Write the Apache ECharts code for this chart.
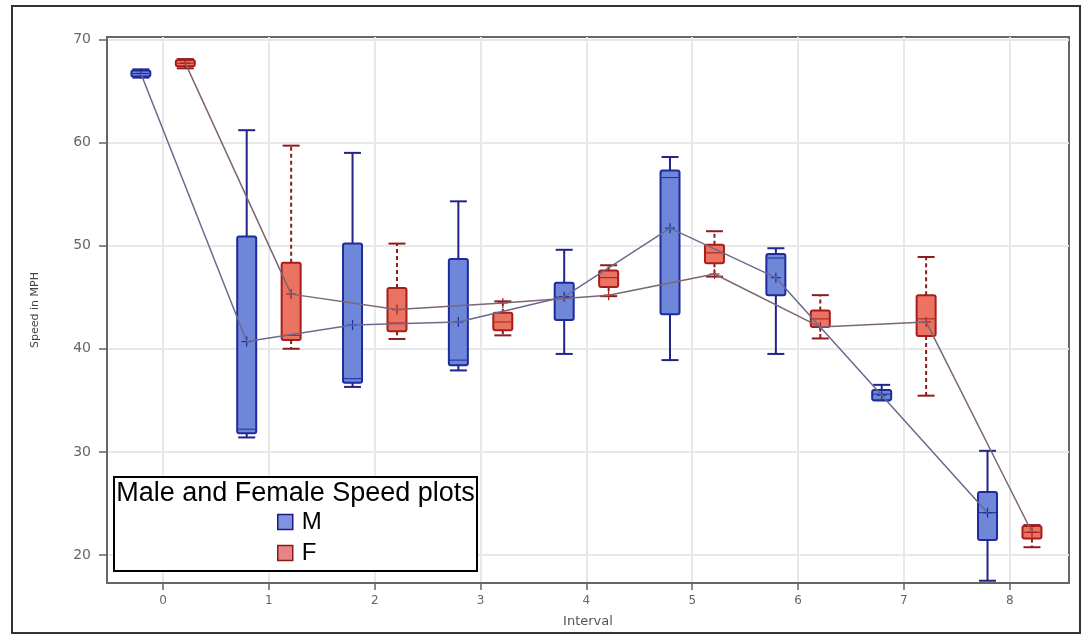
<!DOCTYPE html>
<html>
<head>
<meta charset="utf-8">
<script src="https://cdn.jsdelivr.net/npm/echarts@6/dist/echarts.min.js"></script>
<style>
html,body{margin:0;padding:0;background:#fff;}
#chart{width:1086px;height:635px;}
</style>
</head>
<body>
<div id="chart"></div>
<script>
// ---- data ----
const intervals = [0, 1, 2, 3, 4, 5, 6, 7, 8];
const yTicks = [20, 30, 40, 50, 60, 70];

const maleMin    = [66.3, 31.4, 36.3, 37.9, 39.5, 38.9, 39.5, 35.0, 17.5];
const maleQ1     = [66.4, 31.8, 36.7, 38.4, 42.8, 43.35, 45.2, 35.0, 21.45];
const maleMedian = [66.7, 32.2, 37.1, 38.9, 45.0, 56.6, 48.8, 35.6, 24.1];
const maleQ3     = [67.0, 50.9, 50.2, 48.7, 46.4, 57.3, 49.2, 36.0, 26.1];
const maleMax    = [67.1, 61.2, 59.0, 54.3, 49.6, 58.6, 49.75, 36.5, 30.1];
const maleMean   = [66.7, 40.7, 42.3, 42.6, 45.05, 51.7, 46.9, 35.5, 24.1];

const femaleMin    = [67.2, 40.0, 40.95, 41.3, 45.1, 47.0, 41.0, 35.45, 20.75];
const femaleQ1     = [67.4, 40.85, 41.7, 41.8, 46.0, 48.3, 42.1, 41.25, 21.6];
const femaleMedian = [67.7, 41.3, 42.5, 42.6, 46.9, 49.3, 42.9, 42.9, 22.2];
const femaleQ3     = [68.0, 48.35, 45.9, 43.5, 47.6, 50.1, 43.7, 45.2, 22.8];
const femaleMax    = [68.1, 59.7, 50.2, 44.6, 48.1, 51.4, 45.2, 48.9, 22.9];
const femaleMean   = [67.7, 45.3, 43.8, 44.45, 45.2, 47.25, 42.1, 42.6, 22.2];

// ---- layout / style ----
const OFFSET = 0.21;
const maleX = intervals.map(v => v - OFFSET);
const femaleX = intervals.map(v => v + OFFSET);

function boxData(xs, mn, q1, md, q3, mx, mean) {
  return xs.map((x, i) => [x, mn[i], q1[i], md[i], q3[i], mx[i], mean[i]]);
}

function makeRender(st) {
  return function (params, api) {
    const x = api.value(0);
    const c = v => api.coord([x, v]);
    const pMin = c(api.value(1)), pQ1 = c(api.value(2)), pMed = c(api.value(3)),
          pQ3 = c(api.value(4)), pMax = c(api.value(5)), pMean = c(api.value(6));
    const cx = pMin[0];
    const bw = 19, cw = 17, mw = 5;
    const wStyle = { stroke: st.whisker, lineWidth: 2, lineDash: st.dash };
    const children = [];
    if (pMax[1] < pQ3[1] - 0.5) {
      children.push({ type: 'line', shape: { x1: cx, y1: pQ3[1], x2: cx, y2: pMax[1] }, style: wStyle });
    }
    if (pMin[1] > pQ1[1] + 0.5) {
      children.push({ type: 'line', shape: { x1: cx, y1: pQ1[1], x2: cx, y2: pMin[1] }, style: wStyle });
    }
    children.push({ type: 'line', shape: { x1: cx - cw / 2, y1: pMax[1], x2: cx + cw / 2, y2: pMax[1] }, style: { stroke: st.whisker, lineWidth: 2 } });
    children.push({ type: 'line', shape: { x1: cx - cw / 2, y1: pMin[1], x2: cx + cw / 2, y2: pMin[1] }, style: { stroke: st.whisker, lineWidth: 2 } });
    children.push({
      type: 'rect',
      shape: { x: cx - bw / 2, y: pQ3[1], width: bw, height: Math.max(pQ1[1] - pQ3[1], 3), r: 2 },
      style: { fill: st.fill, stroke: st.stroke, lineWidth: 2 }
    });
    children.push({ type: 'line', shape: { x1: cx - bw / 2 + 1, y1: pMed[1], x2: cx + bw / 2 - 1, y2: pMed[1] }, style: { stroke: st.stroke, lineWidth: 1 } });
    children.push({ type: 'line', shape: { x1: cx - mw, y1: pMean[1], x2: cx + mw, y2: pMean[1] }, style: { stroke: st.stroke, lineWidth: 1.2 } });
    children.push({ type: 'line', shape: { x1: cx, y1: pMean[1] - mw, x2: cx, y2: pMean[1] + mw }, style: { stroke: st.stroke, lineWidth: 1.2 } });
    return { type: 'group', children };
  };
}

const maleStyle = { fill: '#6f87d8', stroke: '#1e2b9c', whisker: '#222288', dash: null };
const femaleStyle = { fill: '#ea7461', stroke: '#a81c1c', whisker: '#8e1c1c', dash: [4, 3] };

const chart = echarts.init(document.getElementById('chart'));
const labelFont = 'DejaVu Sans';

chart.setOption({
  animation: false,
  backgroundColor: '#ffffff',
  grid: { left: 107, top: 37, right: 17, bottom: 52, show: true, borderColor: '#666', borderWidth: 2 },
  xAxis: {
    type: 'value', min: -0.53, max: 8.56,
    name: 'Interval', nameLocation: 'middle', nameGap: 32,
    nameTextStyle: { fontFamily: labelFont, fontSize: 13, color: '#555' },
    axisLine: { show: true, onZero: false, lineStyle: { color: '#666', width: 2 } },
    axisTick: { show: true, customValues: intervals, length: 7, lineStyle: { color: '#666', width: 1.5 } },
    axisLabel: { customValues: intervals, margin: 12, fontFamily: labelFont, fontSize: 12, color: '#666' },
    splitLine: { show: true, lineStyle: { color: '#e8e8e8', width: 2 } }
  },
  yAxis: {
    type: 'value', min: 17.28, max: 70.24,
    name: 'Speed in MPH', nameLocation: 'middle', nameGap: 66, nameRotate: 90,
    nameTextStyle: { fontFamily: labelFont, fontSize: 11, color: '#444' },
    axisLine: { show: true, onZero: false, lineStyle: { color: '#666', width: 2 } },
    axisTick: { show: true, customValues: yTicks, length: 8, lineStyle: { color: '#666', width: 1.5 } },
    axisLabel: { customValues: yTicks, margin: 16, fontFamily: labelFont, fontSize: 14, color: '#666' },
    splitLine: { show: true, lineStyle: { color: '#e8e8e8', width: 2 } }
  },
  legend: {
    orient: 'vertical', left: 272, top: 505, z: 20,
    itemWidth: 15, itemHeight: 15, itemGap: 7,
    textStyle: { fontFamily: 'Liberation Sans', fontSize: 24, lineHeight: 24, color: '#000', padding: [0, 0, 0, 4] },
    data: [
      { name: 'M', icon: 'rect', itemStyle: { color: '#8092e2', borderColor: '#1a1a80', borderWidth: 1.5 } },
      { name: 'F', icon: 'rect', itemStyle: { color: '#e88484', borderColor: '#8a1a1a', borderWidth: 1.5 } }
    ]
  },
  graphic: [
    { type: 'rect', z: -10, silent: true, shape: { x: 12, y: 6, width: 1068, height: 627 }, style: { fill: 'none', stroke: '#333', lineWidth: 2 } },
    { type: 'rect', z: 10, silent: true, shape: { x: 114, y: 477, width: 363, height: 94 }, style: { fill: '#fff', stroke: '#000', lineWidth: 2 } },
    { type: 'text', z: 11, silent: true, x: 295.5, y: 494, style: { text: 'Male and Female Speed plots', fontFamily: 'Liberation Sans', fontSize: 27, fill: '#000', textAlign: 'center', textVerticalAlign: 'middle' } }
  ],
  series: [
    { name: 'M', type: 'custom', renderItem: makeRender(maleStyle), data: boxData(maleX, maleMin, maleQ1, maleMedian, maleQ3, maleMax, maleMean), encode: { x: 0, y: [1, 2, 3, 4, 5, 6] }, z: 2 },
    { name: 'F', type: 'custom', renderItem: makeRender(femaleStyle), data: boxData(femaleX, femaleMin, femaleQ1, femaleMedian, femaleQ3, femaleMax, femaleMean), encode: { x: 0, y: [1, 2, 3, 4, 5, 6] }, z: 2 },
    { name: 'M mean', type: 'line', data: maleX.map((x, i) => [x, maleMean[i]]), symbol: 'none', lineStyle: { color: '#6a6a90', width: 1.5 }, z: 5 },
    { name: 'F mean', type: 'line', data: femaleX.map((x, i) => [x, femaleMean[i]]), symbol: 'none', lineStyle: { color: '#7c6674', width: 1.5 }, z: 5 }
  ]
});
</script>
</body>
</html>
